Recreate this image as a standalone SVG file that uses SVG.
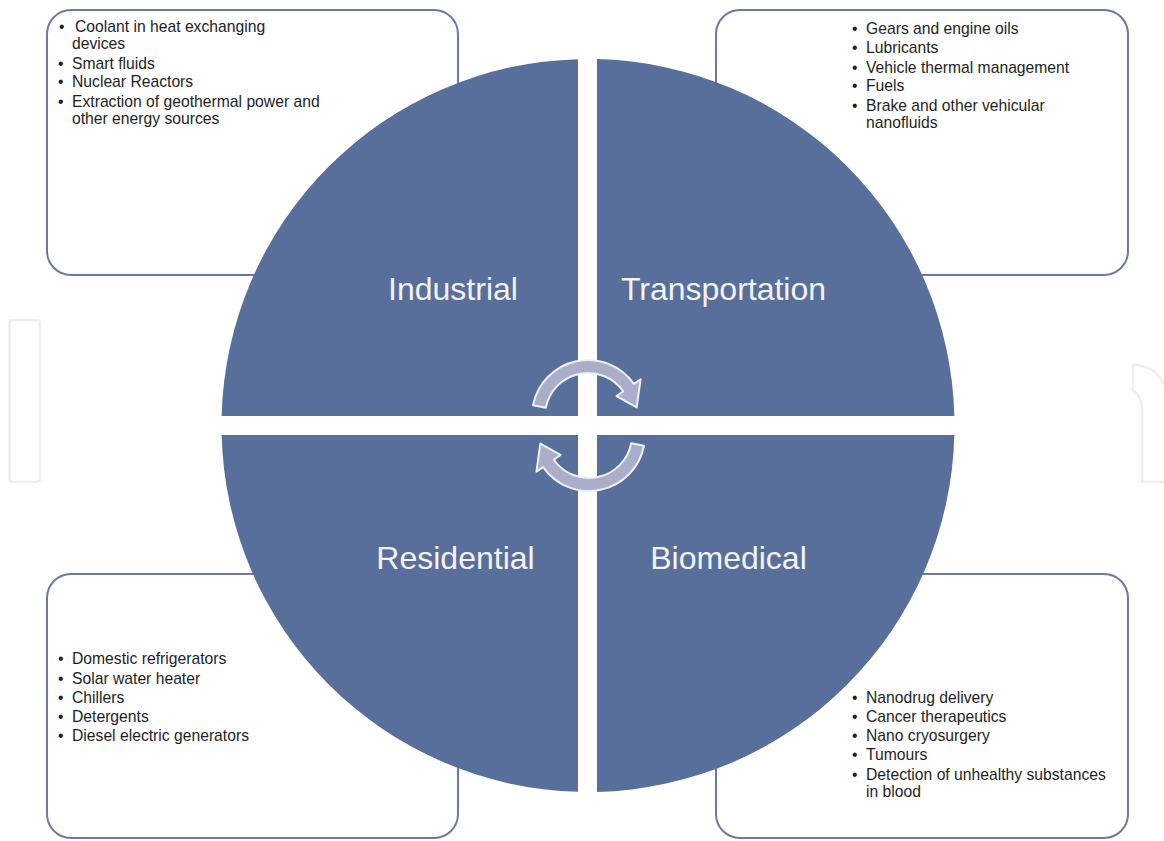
<svg xmlns="http://www.w3.org/2000/svg" width="1164" height="841" viewBox="0 0 1164 841">
<style>
.box{fill:#fff;stroke:#6b7aa5;stroke-width:2}
.q{fill:#586f9b}
.lbl{font-family:"Liberation Sans",Arial,sans-serif;font-size:32px;fill:#f3f3f3;text-anchor:middle}
.t{font-family:"Liberation Sans",Arial,sans-serif;font-size:15.7px;fill:#1e1e1e}
.wm{fill:none;stroke:#eceef1;stroke-width:2.5}
.arr{fill:#aaaec8;stroke:#eef0f6;stroke-width:2;stroke-linejoin:round}
</style>
<defs>
<path id="arrowShape" d="M533.0 405.3 A56 56 0 0 1 633.9 383.9 L640.6 379.2 L636.7 407.4 L616.5 396.1 L623.2 391.3 A43 43 0 0 0 545.8 407.8 Z"/>
</defs>
<rect width="1164" height="841" fill="#fff"/>
<g id="watermark">
<rect class="wm" x="9.5" y="320" width="30.5" height="162" rx="3"/>
<path class="wm" d="M1133 390 L1133 365 Q1155 365 1164 385 M1133 390 Q1142 396 1142 410 L1142 482 L1164 482"/>
</g>
<g id="box-industrial">
<rect class="box" x="47" y="10" width="411" height="265" rx="24"/>
<text class="t" x="59" y="32">•</text><text class="t" x="75" y="32">Coolant in heat exchanging</text>
<text class="t" x="72" y="48.5">devices</text>
<text class="t" x="58" y="68.5">•</text><text class="t" x="72" y="68.5">Smart fluids</text>
<text class="t" x="58" y="87">•</text><text class="t" x="72" y="87">Nuclear Reactors</text>
<text class="t" x="58" y="106.5">•</text><text class="t" x="72" y="106.5">Extraction of geothermal power and</text>
<text class="t" x="72" y="123.5">other energy sources</text>
</g>
<g id="box-transportation">
<rect class="box" x="716" y="10" width="412" height="265" rx="24"/>
<text class="t" x="852" y="33.5">•</text><text class="t" x="866" y="33.5">Gears and engine oils</text>
<text class="t" x="852" y="53">•</text><text class="t" x="866" y="53">Lubricants</text>
<text class="t" x="852" y="72.5">•</text><text class="t" x="866" y="72.5">Vehicle thermal management</text>
<text class="t" x="852" y="91">•</text><text class="t" x="866" y="91">Fuels</text>
<text class="t" x="852" y="110.5">•</text><text class="t" x="866" y="110.5">Brake and other vehicular</text>
<text class="t" x="866" y="127.5">nanofluids</text>
</g>
<g id="box-residential">
<rect class="box" x="47" y="574" width="411" height="264" rx="24"/>
<text class="t" x="58" y="664">•</text><text class="t" x="72" y="664">Domestic refrigerators</text>
<text class="t" x="58" y="683.5">•</text><text class="t" x="72" y="683.5">Solar water heater</text>
<text class="t" x="58" y="702.5">•</text><text class="t" x="72" y="702.5">Chillers</text>
<text class="t" x="58" y="721.5">•</text><text class="t" x="72" y="721.5">Detergents</text>
<text class="t" x="58" y="741">•</text><text class="t" x="72" y="741">Diesel electric generators</text>
</g>
<g id="box-biomedical">
<rect class="box" x="716" y="574" width="412" height="264" rx="24"/>
<text class="t" x="852" y="703">•</text><text class="t" x="866" y="703">Nanodrug delivery</text>
<text class="t" x="852" y="722">•</text><text class="t" x="866" y="722">Cancer therapeutics</text>
<text class="t" x="852" y="741">•</text><text class="t" x="866" y="741">Nano cryosurgery</text>
<text class="t" x="852" y="760">•</text><text class="t" x="866" y="760">Tumours</text>
<text class="t" x="852" y="779.5">•</text><text class="t" x="866" y="779.5">Detection of unhealthy substances</text>
<text class="t" x="866" y="796.5">in blood</text>
</g>
<g id="industrial">
<path class="q" d="M578 416 L578 59.14 A366.5 366.5 0 0 0 221.62 416 Z"/>
<text class="lbl" x="453" y="300">Industrial</text>
</g>
<g id="transportation">
<path class="q" d="M597 416 L597 59.11 A366.5 366.5 0 0 1 954.38 416 Z"/>
<text class="lbl" x="723.5" y="300">Transportation</text>
</g>
<g id="residential">
<path class="q" d="M578 435 L221.62 435 A366.5 366.5 0 0 0 578 791.86 Z"/>
<text class="lbl" x="455.5" y="569">Residential</text>
</g>
<g id="biomedical">
<path class="q" d="M597 435 L954.38 435 A366.5 366.5 0 0 1 597 791.89 Z"/>
<text class="lbl" x="728.5" y="569">Biomedical</text>
</g>
<g id="connectors">
<use href="#arrowShape" class="arr"/>
<use href="#arrowShape" class="arr" transform="rotate(180 588.5 425.5)"/>
</g>
</svg>
